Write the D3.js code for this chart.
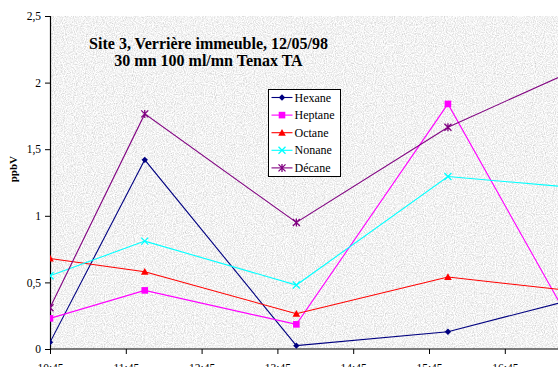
<!DOCTYPE html>
<html><head><meta charset="utf-8">
<script src="https://cdn.jsdelivr.net/npm/d3@7"></script>
<style>html,body{margin:0;padding:0;background:#fff;overflow:hidden}</style>
</head><body>
<svg id="c" width="558" height="367"></svg>
<script>
// Times in decimal hours (10:45, 12:00, 14:00, 16:00, 17:30)
const times = [10.75, 12.0, 14.0, 16.0, 17.5];
const tickHours = [10.75, 11.75, 12.75, 13.75, 14.75, 15.75, 16.75];
const tickLabels = ["10:45", "11:45", "12:45", "13:45", "14:45", "15:45", "16:45"];
const yTicks = [0, 0.5, 1, 1.5, 2, 2.5];
const seriesNames = ["Hexane", "Heptane", "Octane", "Nonane", "Décane"];
const hexane  = [0.05, 1.42, 0.025, 0.13, 0.35];
const heptane = [0.23, 0.44, 0.185, 1.84, 0.32];
const octane  = [0.68, 0.58, 0.265, 0.54, 0.445];
const nonane  = [0.55, 0.81, 0.48, 1.295, 1.22];
const decane  = [0.31, 1.765, 0.95, 1.665, 2.05];
const colors = ["#000080", "#FF00FF", "#FF0000", "#00FFFF", "#800080"];
const markers = ["diamond", "square", "triangle", "x", "star"];
const titleLines = ["Site 3, Verrière immeuble, 12/05/98", "30 mn 100 ml/mn Tenax TA"];

const allSeries = [hexane, heptane, octane, nonane, decane];
const svg = d3.select("#c");
const W = 558, H = 367;
const x = d3.scaleLinear().domain([10.75, 17.75]).range([50, 580.6]);
const y = d3.scaleLinear().domain([0, 2.5]).range([349, 16]);

// texture filter
const defs = svg.append("defs");
const f = defs.append("filter").attr("id", "granite").attr("x", 0).attr("y", 0).attr("width", 1).attr("height", 1);
f.append("feTurbulence").attr("type", "fractalNoise").attr("baseFrequency", 0.9).attr("numOctaves", 2).attr("seed", 3).attr("result", "n");
f.append("feColorMatrix").attr("in", "n").attr("type", "matrix")
  .attr("values", "0.7 0 0 0 0.54  0.7 0 0 0 0.54  0.7 0 0 0 0.54  0 0 0 0 1");
defs.append("clipPath").attr("id", "plotclip").append("rect")
  .attr("x", x(10.75)).attr("y", y(2.5)).attr("width", W - x(10.75)).attr("height", y(0) - y(2.5));

svg.append("rect").attr("x", x(10.75)).attr("y", y(2.5))
  .attr("width", W - x(10.75)).attr("height", y(0) - y(2.5))
  .attr("fill", "#ddd").attr("filter", "url(#granite)");

// axes
const font = "'Liberation Serif','Times New Roman',serif";
const yAxis = d3.axisLeft(y).tickValues(yTicks).tickSize(5).tickPadding(4)
  .tickFormat(d => String(d).replace(".", ","));
const gy = svg.append("g").attr("transform", `translate(${x(10.75)},0)`).call(yAxis);
const xAxis = d3.axisBottom(x).tickValues(tickHours).tickSize(5).tickPadding(10)
  .tickFormat((d, i) => tickLabels[i]);
const gx = svg.append("g").attr("transform", `translate(0,${y(0)})`).call(xAxis);
[gx, gy].forEach(g => {
  g.select(".domain").attr("stroke", "#000").attr("stroke-width", 1.2);
  g.selectAll(".tick line").attr("stroke", "#000");
  g.selectAll("text").attr("font-family", font).attr("font-size", 11.5).attr("fill", "#000");
});
gx.select(".domain").attr("d", `M${x(10.75)},0H${W}`);

svg.append("text").attr("transform", `translate(17,${y(1.35)}) rotate(-90)`)
  .attr("text-anchor", "middle").attr("font-family", font).attr("font-weight", "bold")
  .attr("font-size", 11).text("ppbV");

// lines + markers
function marker(g, type, c) {
  const s = 3.2;
  if (type === "diamond") g.append("path").attr("d", `M0,${-s}L${s},0L0,${s}L${-s},0Z`).attr("fill", c);
  else if (type === "square") g.append("rect").attr("x", -3.3).attr("y", -3.3).attr("width", 6.6).attr("height", 6.6).attr("fill", c);
  else if (type === "triangle") g.append("path").attr("d", `M0,-3.8L3.8,3L-3.8,3Z`).attr("fill", c);
  else if (type === "x") g.append("path").attr("d", `M-3.5,-3.5L3.5,3.5M-3.5,3.5L3.5,-3.5`).attr("stroke", c).attr("stroke-width", 1.3);
  else g.append("path").attr("d", `M-3.5,-3.5L3.5,3.5M-3.5,3.5L3.5,-3.5M0,-4V4`).attr("stroke", c).attr("stroke-width", 1.3);
}
const plot = svg.append("g").attr("clip-path", "url(#plotclip)");
const line = d3.line().x((d, i) => x(times[i])).y(d => y(d));
allSeries.forEach((s, k) => {
  plot.append("path").datum(s).attr("d", line).attr("fill", "none")
    .attr("stroke", colors[k]).attr("stroke-width", 1.1);
});
allSeries.forEach((s, k) => {
  s.forEach((v, i) => {
    const g = plot.append("g").attr("transform", `translate(${x(times[i])},${y(v)})`);
    marker(g, markers[k], colors[k]);
  });
});

// title
titleLines.forEach((t, i) => {
  svg.append("text").attr("x", 208.5).attr("y", 49 + i * 17).attr("text-anchor", "middle")
    .attr("font-family", font).attr("font-weight", "bold").attr("font-size", 16).text(t);
});

// legend
const lg = svg.append("g").attr("transform", "translate(268.5,89.5)");
lg.append("rect").attr("width", 72).attr("height", 87).attr("fill", "#fff").attr("stroke", "#000").attr("stroke-width", 1);
seriesNames.forEach((n, k) => {
  const yy = 8 + k * 17.6;
  lg.append("line").attr("x1", 3).attr("x2", 24).attr("y1", yy).attr("y2", yy).attr("stroke", colors[k]).attr("stroke-width", 1.1);
  marker(lg.append("g").attr("transform", `translate(13.5,${yy})`), markers[k], colors[k]);
  lg.append("text").attr("x", 26).attr("y", yy + 4).attr("font-family", font).attr("font-size", 12).text(n);
});
</script>
</body></html>
